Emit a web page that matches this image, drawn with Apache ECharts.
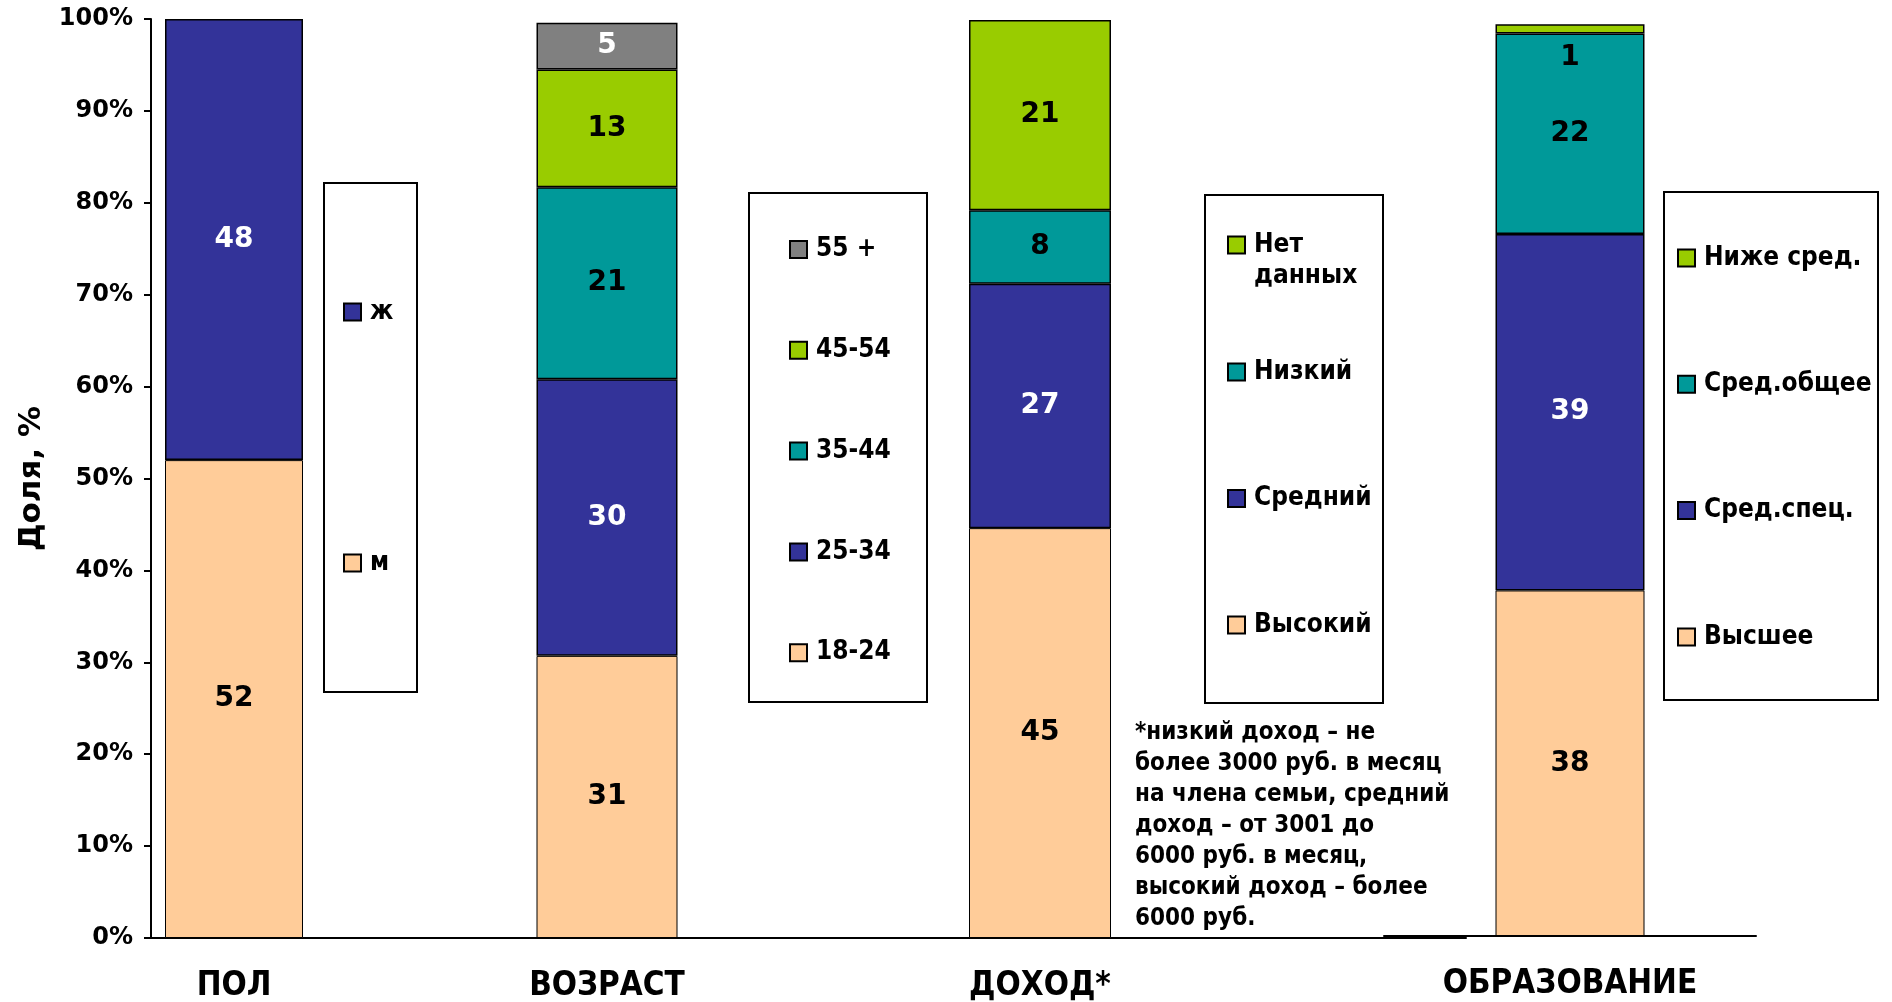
<!DOCTYPE html>
<html><head><meta charset="utf-8">
<script src="https://cdn.jsdelivr.net/npm/echarts@6/dist/echarts.min.js"></script>
<style>html,body{margin:0;padding:0;background:#fff}#c{width:1892px;height:1002px}</style>
</head><body><div id="c"></div>
<script>
// ---- data ----
const groupNames = ['ПОЛ', 'ВОЗРАСТ', 'ДОХОД*', 'ОБРАЗОВАНИЕ'];
const polSeries = ['м', 'ж'];
const polValues = [52.0, 48.0];
const ageSeries = ['18-24', '25-34', '35-44', '45-54', '55 +'];
const ageValues = [30.7, 30.1, 20.9, 12.8, 5.1];
const incomeSeries = ['Высокий', 'Средний', 'Низкий', 'Нет данных'];
const incomeValues = [44.6, 26.6, 8.0, 20.7];
const eduSeries = ['Высшее', 'Сред.спец.', 'Сред.общее', 'Ниже сред.'];
const eduValues = [37.6, 38.8, 21.8, 1.0];
const yAxisTitle = 'Доля, %';
const footnote = '*низкий доход – не\nболее 3000 руб. в месяц\nна члена семьи, средний\nдоход – от 3001 до\n6000 руб. в месяц,\nвысокий доход – более\n6000 руб.';

// ---- styles ----
const PEACH = '#FFCC99', NAVY = '#333399', TEAL = '#009999', LIME = '#99CC00', GREY = '#808080';
const palette = [PEACH, NAVY, TEAL, LIME, GREY];
const FONT = 'DejaVu Sans';
const COND = "'DejaVu Sans Condensed', 'DejaVu Sans'";

const grids = [
  {left: 151, top: 19, width: 332, height: 919, outerBoundsMode: 'none'},
  {left: 483, top: 19, width: 496, height: 919, outerBoundsMode: 'none'},
  {left: 898, top: 19, width: 568, height: 919, outerBoundsMode: 'none'},
  {left: 1384, top: 17, width: 372, height: 919, outerBoundsMode: 'none'}
];
const barWidths = [138, 141, 142, 149];
const catData = [[groupNames[0], ''], [groupNames[1], ''], [groupNames[2], ''], [groupNames[3]]];

const xAxes = grids.map((g, i) => ({
  type: 'category', gridIndex: i, data: catData[i],
  axisLine: {lineStyle: {color: '#000', width: 2}},
  axisTick: {length: 10, lineStyle: {color: '#000', width: 2}},
  axisLabel: {interval: 0, margin: 32, color: '#000', fontFamily: COND, fontWeight: 'bold', fontSize: 33}
}));
const yAxes = grids.map((g, i) => i === 0 ? ({
  type: 'value', gridIndex: 0, min: 0, max: 100, interval: 10,
  name: yAxisTitle, nameLocation: 'middle', nameGap: 104, nameRotate: 90,
  nameTextStyle: {fontFamily: FONT, fontWeight: 'bold', fontSize: 31, color: '#000'},
  axisLine: {show: true, lineStyle: {color: '#000', width: 2}},
  axisTick: {show: true, length: 7, lineStyle: {color: '#000', width: 2}},
  splitLine: {show: false},
  axisLabel: {formatter: '{value}%', margin: 18, color: '#000', fontFamily: FONT, fontWeight: 'bold', fontSize: 24}
}) : ({
  type: 'value', gridIndex: i, min: 0, max: 100, interval: 10, show: false, splitLine: {show: false}
}));

function makeSeries(names, values, gi) {
  return names.map((n, k) => {
    const col = palette[k];
    const dark = (col === NAVY || col === GREY);
    const tiny = values[k] < 3;
    return {
      type: 'bar', name: n, stack: 'g' + gi, xAxisIndex: gi, yAxisIndex: gi,
      barWidth: barWidths[gi], data: [values[k]],
      itemStyle: {color: col, borderColor: '#000', borderWidth: col === PEACH ? 1 : 1.5},
      label: {
        show: true, position: tiny ? 'bottom' : 'inside', distance: 10,
        formatter: p => String(Math.round(p.value)),
        color: dark ? '#fff' : '#000', fontFamily: FONT, fontWeight: 'bold', fontSize: 28
      }
    };
  });
}
const series = [].concat(
  makeSeries(polSeries, polValues, 0),
  makeSeries(ageSeries, ageValues, 1),
  makeSeries(incomeSeries, incomeValues, 2),
  makeSeries(eduSeries, eduValues, 3)
);

const legendBase = {
  orient: 'vertical', icon: 'rect', itemWidth: 17, itemHeight: 17, padding: 0,
  selectedMode: false,
  textStyle: {fontFamily: COND, fontWeight: 'bold', fontSize: 26, color: '#000', padding: [0, 0, 0, 4]}
};
const legends = [
  Object.assign({}, legendBase, {left: 343, top: 299, itemGap: 225, data: polSeries.slice().reverse()}),
  Object.assign({}, legendBase, {left: 789, top: 236.5, itemGap: 74.8, data: ageSeries.slice().reverse()}),
  Object.assign({}, legendBase, {left: 1227, top: 198.5, itemGap: 0, data: [incomeSeries[3]],
    formatter: n => '\n' + n.replace(' ', '\n'),
    textStyle: Object.assign({}, legendBase.textStyle, {lineHeight: 31})}),
  Object.assign({}, legendBase, {left: 1227, top: 359, itemGap: 100.5, data: incomeSeries.slice(0, 3).reverse()}),
  Object.assign({}, legendBase, {left: 1677, top: 245, itemGap: 100.3, data: eduSeries.slice().reverse()})
];

const frame = (x, y, w, h) => ({type: 'rect', z: -1, shape: {x, y, width: w, height: h},
  style: {fill: '#fff', stroke: '#000', lineWidth: 2}});

const option = {
  animation: false,
  backgroundColor: '#fff',
  grid: grids,
  xAxis: xAxes,
  yAxis: yAxes,
  legend: legends,
  series: series,
  graphic: [
    frame(324, 183, 93, 509),
    frame(749, 193, 178, 509),
    frame(1205, 195, 178, 508),
    frame(1664, 192, 214, 508),
    {type: 'text', left: 1135, top: 717, z: 10,
      style: {text: footnote, fill: '#000', font: 'bold 24px "DejaVu Sans Condensed", "DejaVu Sans"', lineHeight: 31}}
  ]
};
const chart = echarts.init(document.getElementById('c'));
chart.setOption(option);
</script></body></html>
